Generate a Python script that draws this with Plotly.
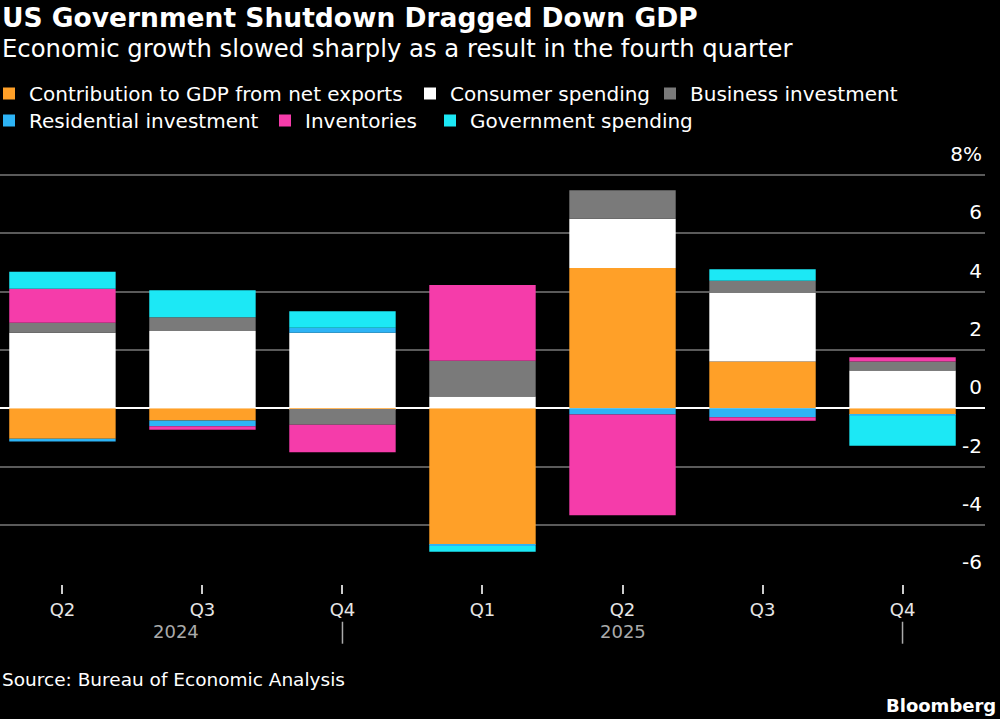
import plotly.graph_objects as go

quarters = ["Q2", "Q3", "Q4", "Q1", "Q2", "Q3", "Q4"]
years = ["2024", "2025"]
year_pos = [0.81, 4]

net_exports = [-1.05, -0.42, -0.03, -4.68, 4.81, 1.60, -0.23]
consumer = [2.59, 2.65, 2.59, 0.40, 1.69, 2.35, 1.29]
business = [0.34, 0.47, -0.54, 1.23, 0.98, 0.42, 0.31]
residential = [-0.09, -0.20, 0.17, -0.05, -0.22, -0.31, -0.03]
inventories = [1.17, -0.12, -0.94, 2.60, -3.45, -0.12, 0.15]
government = [0.58, 0.93, 0.57, -0.19, 0.0, 0.40, -1.03]

series = [
    ("Contribution to GDP from net exports", net_exports, "#ffa028"),
    ("Consumer spending", consumer, "#ffffff"),
    ("Business investment", business, "#7a7a7a"),
    ("Residential investment", residential, "#2db4f6"),
    ("Inventories", inventories, "#f53caa"),
    ("Government spending", government, "#1ce8f5"),
]

font = "DejaVu Sans, Verdana, sans-serif"
x = list(range(len(quarters)))

# plot area in pixels
W, H = 1000, 719
TOP, BOTTOM, RIGHT = 139.5, 584.2, 985

# legend key spots (left px, top px) - one small legend per entry so the
# two rows keep their own spacing
legend_spots = [(0, 74), (421, 74), (661, 74), (0, 101), (276, 101), (441, 101)]


def py(pix):
    # pixel row -> paper y
    return (BOTTOM - pix) / (BOTTOM - TOP)


def px(pix):
    return pix / RIGHT


fig = go.Figure()
legends = {}
for i, (name, vals, color) in enumerate(series):
    leg = "legend" if i == 0 else "legend%d" % (i + 1)
    fig.add_trace(go.Bar(
        x=x, y=vals, name=name, legend=leg,
        marker=dict(color=color, line=dict(width=0)),
        width=0.76,
    ))
    lx, ly = legend_spots[i]
    legends[leg] = dict(
        orientation="h", x=px(lx), xanchor="left",
        y=1 - ly / H, yanchor="top", yref="container",
        indentation=-11, bgcolor="rgba(0,0,0,0)",
        font=dict(size=20, color="white"),
        itemclick=False, itemdoubleclick=False,
    )

fig.update_layout(
    width=W, height=H,
    barmode="relative",
    paper_bgcolor="black",
    plot_bgcolor="black",
    font=dict(family=font, color="white", size=19),
    margin=dict(l=0, r=W - RIGHT, t=TOP, b=H - BOTTOM, autoexpand=False),
    showlegend=True,
    **legends,
)

fig.update_xaxes(
    range=[-0.446, 6.589],
    tickvals=x, ticktext=quarters,
    ticks="outside", ticklen=9, tickcolor="#cccccc", tickwidth=1.5,
    tickfont=dict(size=18, color="#e6e6e6"),
    showgrid=False, zeroline=False, showline=False,
)
fig.update_yaxes(
    range=[-6.03, 9.2],
    tickvals=[-6, -4, -2, 0, 2, 4, 6, 8],
    ticktext=["-6", "-4", "-2", "0", "2", "4", "6", "8%"],
    side="right", ticklabelposition="inside top", ticklabelshift=-7,
    tickfont=dict(size=20, color="white"),
    showgrid=True, gridcolor="#5a5a5a", gridwidth=1.5,
    zeroline=True, zerolinecolor="white", zerolinewidth=2,
)

fig.add_annotation(
    x=0, y=py(17), xref="paper", yref="paper",
    text="<b>US Government Shutdown Dragged Down GDP</b>",
    showarrow=False, xanchor="left", yanchor="middle",
    font=dict(size=26.5, color="white"),
)
fig.add_annotation(
    x=0, y=py(48), xref="paper", yref="paper",
    text="Economic growth slowed sharply as a result in the fourth quarter",
    showarrow=False, xanchor="left", yanchor="middle",
    font=dict(size=24.3, color="white"),
)

for yr, pos in zip(years, year_pos):
    fig.add_annotation(
        x=pos, y=py(632), xref="x", yref="paper", text=yr, showarrow=False,
        font=dict(size=18, color="#aaaaaa"), xanchor="center", yanchor="middle",
    )
for pos in [2, 6]:
    fig.add_shape(
        type="line", x0=pos, x1=pos, y0=py(622), y1=py(644), xref="x", yref="paper",
        line=dict(color="#aaaaaa", width=1.5),
    )

fig.add_annotation(
    x=0, y=py(680), xref="paper", yref="paper", text="Source: Bureau of Economic Analysis",
    showarrow=False, xanchor="left", yanchor="middle",
    font=dict(size=18.5, color="white"),
)
fig.add_annotation(
    x=px(998), y=py(706), xref="paper", yref="paper", text="<b>Bloomberg</b>",
    showarrow=False, xanchor="right", yanchor="middle",
    font=dict(size=18, color="white"),
)

fig.write_html("out.html", config={"displayModeBar": False},
               post_script="document.body.style.margin='0';")
